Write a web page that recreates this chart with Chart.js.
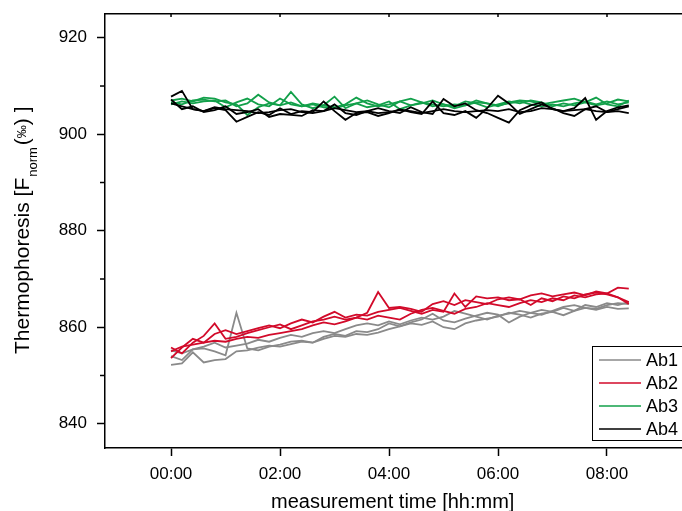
<!DOCTYPE html>
<html>
<head>
<meta charset="utf-8">
<script src="https://cdn.jsdelivr.net/npm/chart.js@4/dist/chart.umd.min.js"></script>
<style>
html, body { margin: 0; padding: 0; overflow: hidden; background: #fff; }
#wrap { width: 720px; height: 511px; }
</style>
</head>
<body>
<div id="wrap"><canvas id="chart" width="720" height="511"></canvas></div>
<script>
// sample times in minutes after start (one reading every 12 min)
var times = [0, 12, 24, 36, 48, 60, 72, 84, 96, 108, 120, 132, 144, 156, 168, 180, 192, 204, 216, 228,
    240, 252, 264, 276, 288, 300, 312, 324, 336, 348, 360, 372, 384, 396, 408, 420, 432, 444, 456, 468,
    480, 492, 504];

var xTicks = [0, 120, 240, 360, 480];
var yTicks = [840, 860, 880, 900, 920];
var yMinorTicks = [850, 870, 890, 910];

// Ab1 (three runs)
var ab1a = [852.2, 852.5, 854.8, 852.7, 853.2, 853.4, 855.0, 855.2, 855.8, 856.2, 856.0, 856.5, 857.0, 856.8, 857.6,
    858.2, 858.0, 858.6, 858.4, 858.9, 859.6, 860.2, 860.8, 860.5, 861.2, 860.0, 859.6, 860.8, 861.4, 861.8,
    862.2, 863.0, 862.6, 862.0, 862.8, 863.2, 862.5, 863.4, 864.0, 863.6, 864.2, 863.8, 863.9];
var ab1b = [854.0, 853.2, 855.4, 855.6, 855.0, 854.2, 863.0, 855.6, 855.2, 856.0, 856.4, 857.0, 857.2, 856.8, 858.0,
    858.6, 858.2, 859.2, 859.0, 859.6, 860.8, 860.2, 861.0, 861.6, 862.8, 861.4, 861.0, 861.8, 862.4, 863.0,
    862.6, 861.0, 862.2, 863.0, 863.6, 863.2, 864.0, 863.4, 864.6, 864.2, 865.0, 864.6, 865.2];
var ab1c = [855.2, 854.6, 855.4, 856.0, 856.8, 855.8, 856.2, 856.6, 857.4, 857.0, 857.8, 858.4, 858.0, 858.8, 859.2,
    858.8, 859.6, 860.4, 860.8, 860.4, 861.2, 860.6, 861.4, 862.0, 861.6, 862.2, 863.4, 862.8, 862.2, 861.6,
    862.4, 862.8, 863.4, 863.0, 862.6, 863.4, 864.2, 864.6, 864.0, 863.8, 864.6, 865.0, 864.8];

// Ab2
var ab2a = [855.8, 854.6, 856.8, 858.2, 860.8, 857.6, 858.0, 858.8, 859.4, 860.0, 860.6, 859.6, 860.4, 861.2, 861.6,
    862.2, 861.6, 862.0, 863.0, 867.3, 864.0, 864.2, 863.8, 863.2, 864.8, 865.4, 864.6, 865.6, 865.2, 864.8,
    865.8, 866.2, 865.8, 866.6, 867.0, 866.4, 866.8, 867.2, 866.6, 867.4, 867.0, 868.2, 868.0];
var ab2b = [853.6, 855.8, 857.6, 856.8, 858.6, 859.4, 858.6, 859.2, 859.8, 860.4, 859.8, 860.8, 861.6, 861.0, 862.2,
    863.2, 862.0, 862.6, 862.4, 863.2, 863.6, 864.0, 863.4, 862.8, 863.6, 863.2, 867.0, 864.2, 866.4, 866.0,
    866.2, 865.6, 865.8, 864.6, 866.0, 865.4, 866.4, 866.0, 866.8, 867.2, 866.8, 866.2, 865.2];
var ab2c = [855.0, 856.0, 856.4, 856.8, 857.2, 857.0, 857.6, 858.0, 857.8, 858.4, 858.8, 859.2, 859.6, 860.4, 861.0,
    860.6, 861.2, 862.0, 861.6, 862.4, 862.0, 861.6, 862.8, 863.6, 864.0, 863.4, 862.8, 863.8, 864.2, 865.0,
    864.6, 864.2, 865.0, 865.6, 865.2, 866.0, 865.6, 866.6, 866.2, 866.8, 867.0, 866.2, 864.8];

// Ab3
var ab3a = [906.6, 906.2, 907.0, 907.2, 906.8, 907.0, 905.8, 906.4, 908.2, 906.6, 906.0, 906.6, 905.8, 906.4, 906.0,
    905.6, 906.2, 907.6, 906.4, 905.8, 906.2, 906.8, 906.0, 906.4, 907.0, 906.2, 905.4, 906.0, 906.6, 906.4,
    905.8, 906.6, 907.0, 906.8, 906.2, 906.6, 907.0, 907.4, 906.6, 906.0, 906.4, 907.2, 906.8];
var ab3b = [907.0, 907.4, 906.8, 907.6, 907.4, 906.6, 906.2, 904.0, 905.6, 906.4, 906.0, 908.8, 906.2, 905.4, 906.0,
    907.8, 905.4, 906.4, 907.0, 906.2, 905.6, 906.8, 907.4, 906.6, 905.8, 906.2, 905.8, 906.8, 906.4, 905.6,
    906.2, 906.8, 906.4, 907.0, 906.6, 905.8, 906.4, 906.0, 906.6, 907.6, 906.2, 905.8, 907.0];
var ab3c = [906.2, 906.8, 906.4, 906.8, 907.0, 905.6, 906.6, 907.4, 906.2, 905.8, 907.4, 906.2, 905.8, 906.2, 905.6,
    905.4, 906.0, 906.4, 905.6, 906.0, 906.8, 905.2, 906.0, 906.6, 906.2, 905.8, 906.2, 906.0, 907.0, 906.4,
    906.0, 906.4, 906.8, 906.2, 905.8, 906.2, 905.8, 906.4, 906.8, 906.2, 906.8, 906.2, 906.6];

// Ab4
var ab4a = [907.8, 909.0, 905.2, 904.8, 905.4, 905.0, 902.6, 903.6, 904.6, 904.0, 905.4, 904.2, 904.8, 904.6, 906.8,
    904.8, 903.0, 904.4, 904.6, 903.8, 904.4, 905.2, 904.6, 904.2, 906.8, 904.4, 904.0, 904.8, 903.4, 905.4,
    908.0, 906.4, 904.2, 905.2, 906.2, 905.4, 904.4, 903.8, 905.2, 905.8, 904.6, 905.2, 905.8];
var ab4b = [907.2, 905.2, 905.8, 904.6, 905.0, 905.8, 904.2, 904.6, 905.2, 903.6, 904.2, 904.0, 903.8, 905.0, 904.8,
    906.2, 904.4, 904.0, 904.8, 905.4, 904.8, 904.4, 905.6, 904.6, 904.2, 907.3, 905.8, 906.4, 905.0, 904.4,
    903.4, 902.4, 905.0, 906.0, 906.6, 905.2, 904.8, 905.4, 907.5, 903.0, 904.8, 905.6, 906.0];
var ab4c = [906.4, 905.8, 905.2, 904.8, 905.6, 905.2, 905.0, 904.8, 904.4, 904.6, 905.0, 905.2, 904.6, 904.4, 904.8,
    905.4, 905.0, 904.6, 904.8, 904.4, 904.6, 905.0, 904.8, 904.4, 904.8, 905.2, 904.8, 904.6, 904.8, 905.0,
    904.8, 905.2, 904.6, 904.8, 905.4, 905.2, 904.8, 905.0, 905.2, 904.8, 904.6, 904.8, 904.4];

var names = ['Ab1', 'Ab2', 'Ab3', 'Ab4'];
var colors = ['#8a8a8a', '#d20a2a', '#12a04a', '#000000'];
var runs = [[ab1a, ab1b, ab1c], [ab2a, ab2b, ab2c], [ab3a, ab3b, ab3c], [ab4a, ab4b, ab4c]];

var FONT = 'Arial, "Liberation Sans", sans-serif';

function points(values) {
    return values.map(function (v, i) {
        return {x: times[i], y: v};
    });
}

// Ab4 first so it is drawn on top
var datasets = [];
for (var g = runs.length - 1; g >= 0; g--) {
    for (var r = 0; r < runs[g].length; r++) {
        datasets.push({
            label: names[g],
            data: points(runs[g][r]),
            borderColor: colors[g],
            borderWidth: 1.8,
            pointRadius: 0,
            fill: false,
            tension: 0
        });
    }
}

function hhmm(v) {
    var h = Math.floor(v / 60), m = v % 60;
    return (h < 10 ? '0' : '') + h + ':' + (m < 10 ? '0' : '') + m;
}

var extras = {
    id: 'extras',
    afterDraw: function (chart) {
        var ctx = chart.ctx, area = chart.chartArea;
        var y = chart.scales.y, x2 = chart.scales.x2;
        ctx.save();
        ctx.strokeStyle = '#000';
        ctx.lineWidth = 1.5;

        // minor ticks on the left axis
        yMinorTicks.forEach(function (v) {
            var py = y.getPixelForValue(v);
            ctx.beginPath();
            ctx.moveTo(area.left - 5, py);
            ctx.lineTo(area.left, py);
            ctx.stroke();
        });

        // small inward ticks on the top axis
        xTicks.forEach(function (v) {
            var px = x2.getPixelForValue(v);
            ctx.beginPath();
            ctx.moveTo(px, area.top);
            ctx.lineTo(px, area.top + 3);
            ctx.stroke();
        });

        // x title
        ctx.fillStyle = '#000';
        ctx.textBaseline = 'alphabetic';
        ctx.textAlign = 'left';
        ctx.font = '20px ' + FONT;
        ctx.fillText('measurement time [hh:mm]', 271, 508);

        // y title with subscript
        ctx.translate(29, 354);
        ctx.rotate(-Math.PI / 2);
        var cx = 0;
        ctx.font = '21px ' + FONT;
        ctx.fillText('Thermophoresis [F', cx, 0);
        cx += ctx.measureText('Thermophoresis [F').width + 1;
        ctx.font = '13px ' + FONT;
        ctx.fillText('norm', cx, 8);
        cx += ctx.measureText('norm').width + 2;
        ctx.font = '21px ' + FONT;
        ctx.fillText('(', cx, 0);
        cx += ctx.measureText('(').width;
        ctx.font = '13px ' + FONT;
        ctx.fillText('\u2030', cx, -3);
        cx += ctx.measureText('\u2030').width;
        ctx.font = '21px ' + FONT;
        ctx.fillText(') ]', cx, 0);
        ctx.restore();

        // legend box
        ctx.save();
        ctx.strokeStyle = '#000';
        ctx.lineWidth = 1;
        ctx.strokeRect(592.5, 346.5, 140, 94);
        ctx.font = '18px ' + FONT;
        ctx.textBaseline = 'middle';
        ctx.fillStyle = '#000';
        for (var i = 0; i < names.length; i++) {
            var ly = 360 + i * 23;
            ctx.strokeStyle = colors[i];
            ctx.lineWidth = 1.5;
            ctx.beginPath();
            ctx.moveTo(599, ly);
            ctx.lineTo(641, ly);
            ctx.stroke();
            ctx.fillText(names[i], 646, ly + 1);
        }
        ctx.restore();
    }
};

new Chart(document.getElementById('chart'), {
    type: 'line',
    data: {datasets: datasets},
    plugins: [extras],
    options: {
        responsive: false,
        animation: false,
        layout: {padding: {left: 0, right: 20, top: 0, bottom: 0}},
        plugins: {legend: {display: false}, tooltip: {enabled: false}},
        scales: {
            x: {
                type: 'linear',
                position: 'bottom',
                min: -72.7,
                max: 582.4,
                afterBuildTicks: function (scale) {
                    scale.ticks = xTicks.map(function (v) { return {value: v}; });
                },
                afterFit: function (scale) { scale.height = 63; },
                ticks: {
                    color: '#000',
                    padding: 8,
                    maxRotation: 0,
                    autoSkip: false,
                    font: {family: FONT, size: 17},
                    callback: function (v) { return hhmm(v); }
                },
                grid: {drawOnChartArea: false, tickLength: 8, tickColor: '#000', tickWidth: 1.5},
                border: {display: true, color: '#000', width: 1.5}
            },
            x2: {
                type: 'linear',
                position: 'top',
                min: -72.7,
                max: 582.4,
                afterFit: function (scale) { scale.height = 14; },
                ticks: {display: false},
                grid: {drawOnChartArea: false, drawTicks: false},
                border: {display: true, color: '#000', width: 1.5}
            },
            y: {
                type: 'linear',
                min: 834.97,
                max: 924.93,
                afterBuildTicks: function (scale) {
                    scale.ticks = yTicks.map(function (v) { return {value: v}; });
                },
                afterFit: function (scale) {
                    scale.width = 105;
                    scale.paddingTop = 0;
                    scale.paddingBottom = 0;
                },
                ticks: {
                    color: '#000',
                    padding: 10,
                    font: {family: FONT, size: 17}
                },
                grid: {drawOnChartArea: false, tickLength: 8, tickColor: '#000', tickWidth: 1.5},
                border: {display: true, color: '#000', width: 1.5}
            }
        }
    }
});
</script>
</body>
</html>
